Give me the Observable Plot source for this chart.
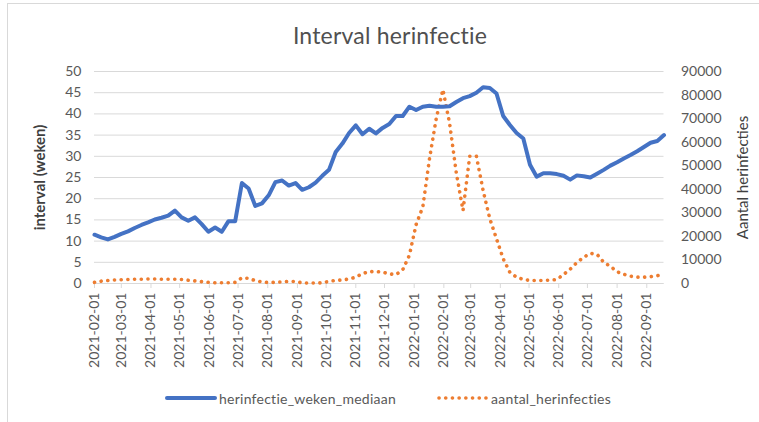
<!DOCTYPE html>
<html>
<head>
<meta charset="utf-8">
<script src="https://cdn.jsdelivr.net/npm/d3@7"></script>
<script src="https://cdn.jsdelivr.net/npm/@observablehq/plot@0.6"></script>
<style>
  html, body { margin: 0; padding: 0; background: #fff; }
  #wrap { position: relative; width: 759px; height: 422px; overflow: hidden; font-family: Lato, "Open Sans", sans-serif; }
  #frame { position: absolute; left: 7px; top: 3px; width: 800px; height: 500px; border-left: 1px solid #d9d9d9; border-top: 1px solid #d9d9d9; }
  #title { position: absolute; left: 0; width: 780px; top: 21px; text-align: center; font-size: 23px; color: #505050; font-weight: 400; letter-spacing: 0.2px; }
  #legend { position: absolute; top: 389px; left: 0; width: 759px; font-size: 14px; color: #595959; letter-spacing: 0.25px; }
  .item { position: absolute; top: 0; display: flex; align-items: center; height: 18px; }
  #plot { position: absolute; left: 0; top: 0; }
</style>
</head>
<body>
<div id="wrap">
  <div id="frame"></div>
  <div id="plot"></div>
  <div id="title">Interval herinfectie</div>
  <div id="legend"></div>
</div>
<script>
// ---- data ----
const startDate = "2021-02-01";          // first weekly observation
const weekCount = 86;                    // weekly observations
const seriesNames = ["herinfectie_weken_mediaan", "aantal_herinfecties"];

// median interval (weeks), left axis
const medianWeeks = [
  11.5, 10.9, 10.4, 11.0, 11.7, 12.3, 13.1, 13.8, 14.4, 15.1,
  15.5, 16.0, 17.2, 15.6, 14.8, 15.6, 14.0, 12.2, 13.2, 12.2,
  14.7, 14.7, 23.7, 22.4, 18.3, 18.9, 20.8, 23.9, 24.3, 23.1,
  23.7, 22.1, 22.7, 23.8, 25.4, 26.8, 31.0, 33.0, 35.5, 37.3,
  35.2, 36.5, 35.4, 36.7, 37.6, 39.5, 39.5, 41.7, 40.9, 41.7,
  41.9, 41.7, 41.7, 41.8, 42.8, 43.7, 44.2, 45.0, 46.3, 46.1,
  44.8, 39.5, 37.4, 35.5, 34.2, 28.0, 25.2, 26.0, 26.0, 25.8,
  25.4, 24.5, 25.5, 25.3, 25.0, 25.9, 26.8, 27.8, 28.6, 29.5,
  30.3, 31.2, 32.2, 33.2, 33.6, 35.0
];

// number of reinfections, right axis
const reinfections = [
  500, 1000, 1300, 1500, 1600, 1700, 1800, 1800, 1900, 1900,
  1800, 1800, 1800, 1700, 1400, 1100, 800, 500, 300, 300,
  300, 500, 2400, 2200, 1200, 700, 400, 500, 700, 900,
  800, 300, 200, 200, 300, 900, 1300, 1500, 1900, 2700,
  4200, 5000, 5100, 4800, 4100, 3800, 5800, 12000, 25000, 32500,
  53000, 70000, 82300, 68000, 47000, 31000, 54000, 54000, 39500, 27500,
  19000, 10500, 4700, 2700, 1700, 1300, 1300, 1300, 1400, 1700,
  3800, 6100, 8900, 11100, 12800, 12400, 9000, 7300, 5000, 3900,
  3100, 2700, 2700, 2900, 3300, 3900
];

const leftTicks = [0, 5, 10, 15, 20, 25, 30, 35, 40, 45, 50];
const rightTicks = [0, 10000, 20000, 30000, 40000, 50000, 60000, 70000, 80000, 90000];
const leftMax = 50, rightMax = 90000;

// ---- build ----
const parse = d3.utcParse("%Y-%m-%d");
const t0 = parse(startDate);
const dates = d3.range(weekCount).map(i => d3.utcDay.offset(t0, i * 7));
const monthTicks = d3.utcMonth.range(t0, d3.utcDay.offset(dates[dates.length - 1], 1));
const blue = dates.map((d, i) => ({date: d, v: medianWeeks[i]}));
const orange = dates.map((d, i) => ({date: d, v: reinfections[i] * leftMax / rightMax}));

const DOTS = "0.1,6.6";
const FONT = "Lato, 'Open Sans', sans-serif";
const chart = Plot.plot({
  width: 759,
  height: 422,
  marginLeft: 94,
  marginRight: 95.5,
  marginTop: 71,
  marginBottom: 139,
  style: {fontFamily: FONT, fontSize: "13.5px", color: "#595959", background: "transparent", overflow: "visible"},
  x: {type: "utc", domain: [dates[0], dates[dates.length - 1]]},
  y: {domain: [0, leftMax]},
  marks: [
    Plot.gridY(leftTicks, {stroke: "#d9d9d9", strokeOpacity: 1, strokeWidth: 1}),
    Plot.axisX({
      ticks: monthTicks, tickFormat: d3.utcFormat("%Y-%m-%d"), tickRotate: -90,
      tickSize: 5, tickPadding: 4, stroke: "#d9d9d9", fill: "#595959", fontSize: 14, label: null
    }),
    Plot.axisY({
      anchor: "left", ticks: leftTicks, tickSize: 0, tickPadding: 13, fill: "#595959", fontSize: 14,
      label: "interval (weken)", labelAnchor: "center", labelArrow: "none", labelOffset: 60
    }),
    Plot.axisY({
      anchor: "right", ticks: rightTicks.map(t => t * leftMax / rightMax),
      tickFormat: d => String(Math.round(d * rightMax / leftMax)),
      tickSize: 0, tickPadding: 17, fill: "#595959", fontSize: 14,
      label: "Aantal herinfecties", labelAnchor: "center", labelArrow: "none", labelOffset: 84
    }),
    Plot.ruleY([0], {stroke: "#d9d9d9", strokeWidth: 1}),
    Plot.line(orange, {x: "date", y: "v", stroke: "#ED7D31", strokeWidth: 3.6, strokeDasharray: DOTS, strokeLinecap: "round", curve: "linear"}),
    Plot.line(blue, {x: "date", y: "v", stroke: "#4472C4", strokeWidth: 4, strokeLinejoin: "round", strokeLinecap: "round"})
  ]
});
document.getElementById("plot").appendChild(chart);

// axis label styling
chart.querySelectorAll("[aria-label='y-axis label'] text").forEach((t, i) => {
  t.setAttribute("fill", "#404040");
  t.setAttribute("font-size", "15");
  if (i === 0) t.setAttribute("font-weight", "bold");
});

// ---- legend ----
const legend = document.getElementById("legend");
const items = [
  {name: seriesNames[0], left: 165, color: "#4472C4", dash: null},
  {name: seriesNames[1], left: 437, color: "#ED7D31", dash: DOTS}
];
items.forEach(it => {
  const div = document.createElement("div");
  div.className = "item";
  div.style.left = it.left + "px";
  const svg = d3.create("svg").attr("width", 52).attr("height", 18);
  svg.append("line").attr("x1", 2).attr("x2", 50).attr("y1", 9).attr("y2", 9)
    .attr("stroke", it.color).attr("stroke-width", it.dash ? 3.6 : 4)
    .attr("stroke-linecap", "round")
    .attr("stroke-dasharray", it.dash);
  div.appendChild(svg.node());
  const span = document.createElement("span");
  span.textContent = it.name;
  span.style.marginLeft = "2px";
  div.appendChild(span);
  legend.appendChild(div);
});
</script>
</body>
</html>
